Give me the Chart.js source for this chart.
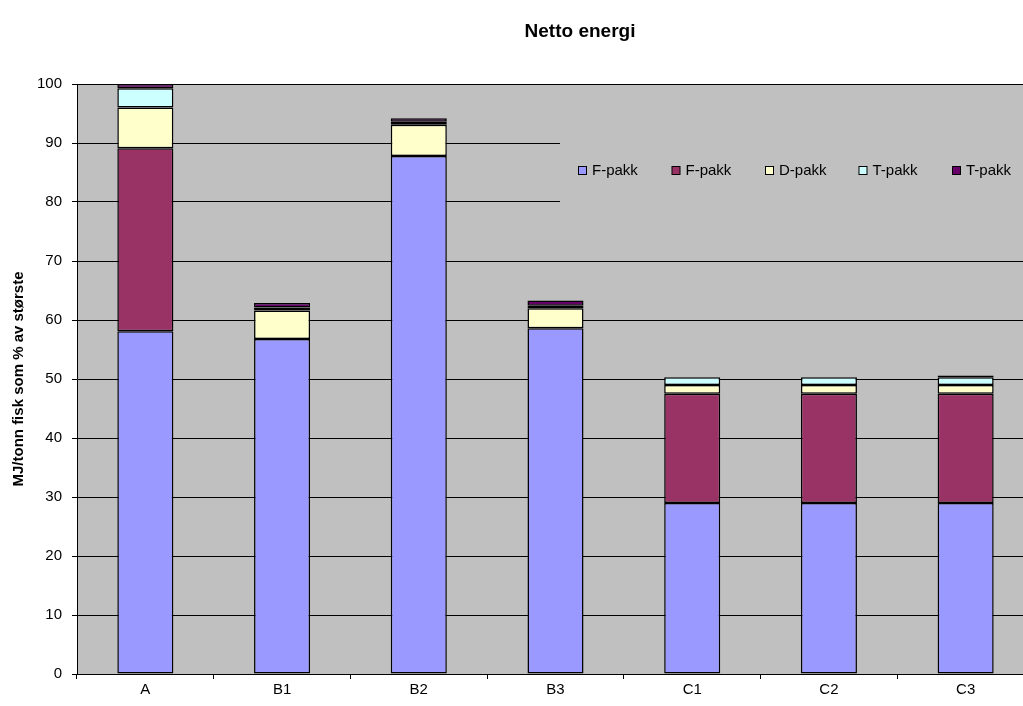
<!DOCTYPE html>
<html>
<head>
<meta charset="utf-8">
<title>Netto energi</title>
<script src="https://cdn.jsdelivr.net/npm/chart.js@4.4.1/dist/chart.umd.min.js"></script>
<style>
  html, body { margin: 0; padding: 0; background: #ffffff; overflow: hidden; }
  #wrap { position: absolute; left: 0; top: 0; width: 1040px; height: 706px; }
</style>
</head>
<body>
<div id="wrap"><canvas id="chart" width="1040" height="706"></canvas></div>
<script>
// Categories and stacked series (MJ/tonn fisk, % of the largest)
const categories = ['A', 'B1', 'B2', 'B3', 'C1', 'C2', 'C3'];
const seriesNames = ['F-pakk', 'F-pakk', 'D-pakk', 'T-pakk', 'T-pakk'];
const fPakkBlue   = [58.1, 56.8, 87.8, 58.6, 29.0, 29.0, 29.0];
const fPakkRed    = [31.0, 0, 0, 0, 18.5, 18.5, 18.5];
const dPakk       = [6.9, 4.8, 5.3, 3.4, 1.5, 1.5, 1.5];
const tPakkCyan   = [3.3, 0.5, 0.5, 0.4, 1.3, 1.3, 1.3];
const tPakkPurple = [0.7, 0.8, 0.6, 0.9, 0, 0, 0.3];
const yTicks = [0, 10, 20, 30, 40, 50, 60, 70, 80, 90, 100];

const colors = ['#9999FF', '#993366', '#FFFFCC', '#CCFFFF', '#660066'];
const values = [fPakkBlue, fPakkRed, dPakk, tPakkCyan, tPakkPurple];

const FONT = "'Liberation Sans', Arial, sans-serif";

// Gray plot background
const plotBackground = {
  id: 'plotBackground',
  beforeDraw(chart) {
    const { ctx, chartArea: a } = chart;
    ctx.save();
    ctx.fillStyle = '#C0C0C0';
    ctx.fillRect(a.left, a.top, a.right - a.left, a.bottom - a.top);
    ctx.restore();
  }
};

// Legend box sitting inside the plot area, over the grid lines
const innerLegend = {
  id: 'innerLegend',
  beforeDatasetsDraw(chart) {
    const { ctx, chartArea: a } = chart;
    const boxLeft = 560, boxTop = 115, boxBottom = 227;
    ctx.save();
    ctx.fillStyle = '#C0C0C0';
    ctx.fillRect(boxLeft, boxTop, a.right - boxLeft + 2, boxBottom - boxTop);
    ctx.font = '15px ' + FONT;
    ctx.textBaseline = 'middle';
    ctx.textAlign = 'left';
    const cy = 171;
    chart.data.datasets.forEach((ds, i) => {
      const x = 578 + i * 93.5;
      ctx.fillStyle = ds.backgroundColor;
      ctx.fillRect(x + 0.5, cy - 4.5, 8, 8);
      ctx.strokeStyle = '#000';
      ctx.lineWidth = 1;
      ctx.strokeRect(x + 0.5, cy - 4.5, 8, 8);
      ctx.fillStyle = '#000';
      ctx.fillText(ds.label, x + 14, cy);
    });
    ctx.restore();
  }
};

// Chart title and vertical axis title
const titles = {
  id: 'titles',
  afterDraw(chart) {
    const { ctx, chartArea: a } = chart;
    ctx.save();
    ctx.fillStyle = '#000';
    ctx.textAlign = 'center';
    ctx.textBaseline = 'middle';
    ctx.font = 'bold 19px ' + FONT;
    ctx.fillText('Netto energi', 580, 32);
    ctx.translate(19, (a.top + a.bottom) / 2);
    ctx.rotate(-Math.PI / 2);
    ctx.font = 'bold 15px ' + FONT;
    ctx.fillText('MJ/tonn fisk som % av største', 0, 0);
    ctx.restore();
  }
};

new Chart(document.getElementById('chart'), {
  type: 'bar',
  data: {
    labels: categories,
    datasets: values.map((v, i) => ({
      label: seriesNames[i],
      data: v,
      backgroundColor: colors[i],
      borderColor: '#000000',
      borderWidth: 1.5,
      borderSkipped: false,
      barPercentage: 0.41,
      categoryPercentage: 1.0
    }))
  },
  options: {
    responsive: false,
    animation: false,
    devicePixelRatio: 1,
    layout: { padding: { top: 84, right: 6, left: 0, bottom: 0 } },
    plugins: {
      legend: { display: false },
      title: { display: false },
      tooltip: { enabled: false }
    },
    scales: {
      x: {
        stacked: true,
        afterFit(scale) { scale.height = 32; },
        grid: {
          display: true,
          drawOnChartArea: false,
          offset: true,
          tickLength: 5,
          color: '#000000'
        },
        border: { display: true, color: '#000000', width: 1 },
        ticks: { color: '#000', font: { family: FONT, size: 15 }, padding: 2, maxRotation: 0 }
      },
      y: {
        stacked: true,
        min: 0,
        max: 100,
        afterFit(scale) { scale.width = 77; },
        afterBuildTicks(scale) { scale.ticks = yTicks.map(v => ({ value: v })); },
        grid: {
          color: '#000000',
          lineWidth: 1,
          tickLength: 5
        },
        border: { display: true, color: '#000000', width: 1 },
        ticks: { color: '#000', font: { family: FONT, size: 15 }, padding: 10 }
      }
    }
  },
  plugins: [plotBackground, innerLegend, titles]
});
</script>
</body>
</html>
